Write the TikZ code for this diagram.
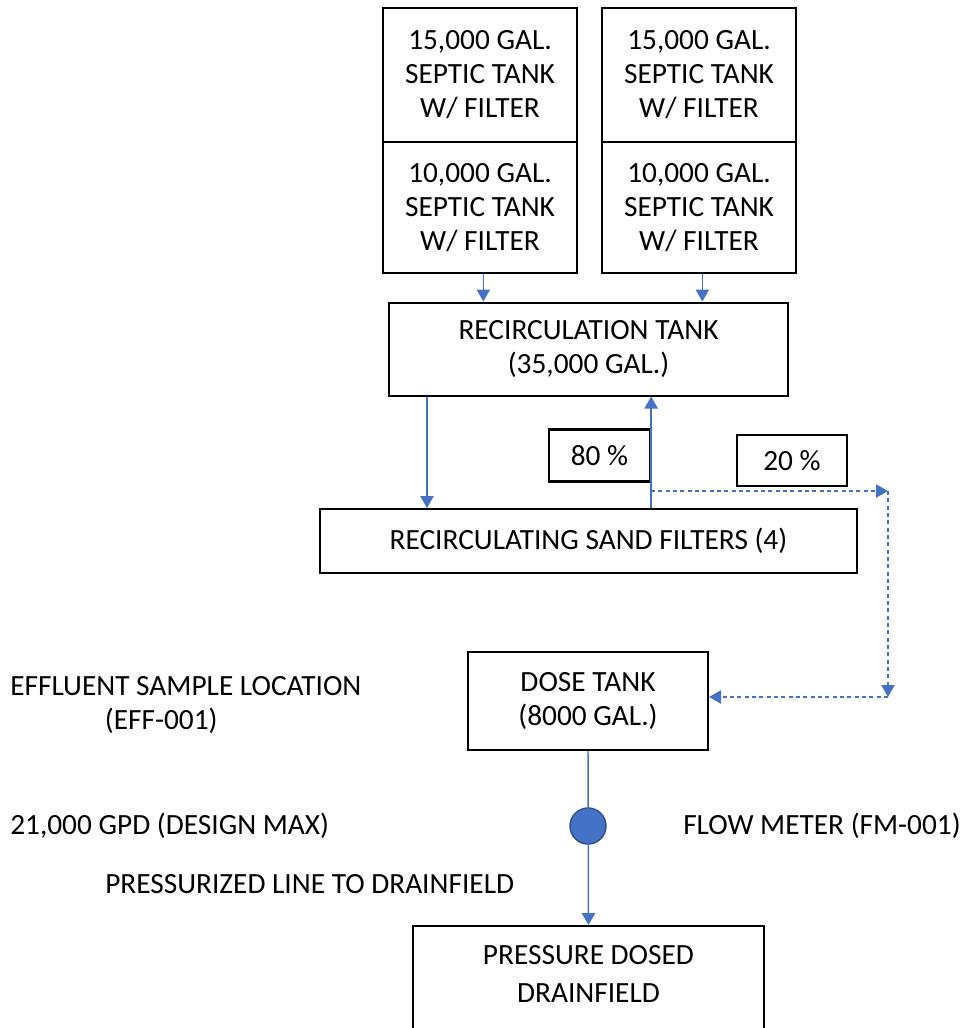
\documentclass[tikz,border=0pt]{standalone}
\usepackage{fontspec}
\setmainfont{Carlito}
\usetikzlibrary{arrows.meta, positioning}
\definecolor{flow}{HTML}{4472C4}
\definecolor{meterrim}{HTML}{2F528F}
\tikzstyle{tank}=[rectangle, draw=black, line width=1.5pt, align=center, inner sep=0pt, font=\fontsize{22}{25.5}\selectfont]
\tikzstyle{pct}=[tank, line width=1.7pt]
\tikzstyle{pipe}=[draw=flow, line width=1.1pt, -{Triangle[length=9pt,width=10pt]}]
\tikzstyle{bypass}=[pipe, dash pattern=on 3pt off 2.5pt]
\tikzstyle{note}=[anchor=west, align=left, inner sep=0pt, font=\fontsize{22}{25.5}\selectfont]

\begin{document}
\begin{tikzpicture}[x=0.75pt, y=-0.75pt]
    \useasboundingbox (0,0) rectangle (960,1028);
    \begin{scope}
    \clip (0,0) rectangle (960,1028);

    % septic tanks
    \node[tank, minimum width=145.5pt, minimum height=100.5pt] (st1) at (480,75) {15,000 GAL.\\SEPTIC TANK\\W/ FILTER};
    \node[tank, minimum width=145.5pt, minimum height=100.5pt] (st2) at (699,75) {15,000 GAL.\\SEPTIC TANK\\W/ FILTER};
    \node[tank, minimum width=145.5pt, minimum height=98.25pt] (st3) at (480,207.5) {10,000 GAL.\\SEPTIC TANK\\W/ FILTER};
    \node[tank, minimum width=145.5pt, minimum height=98.25pt] (st4) at (699,207.5) {10,000 GAL.\\SEPTIC TANK\\W/ FILTER};

    \node[tank, minimum width=299.25pt, minimum height=69.75pt] (rt) at (588.5,349) {RECIRCULATION TANK\\(35,000 GAL.)};
    \node[pct, minimum width=75.75pt, minimum height=39pt] (p80) at (599.5,455.5) {80 \%};
    \node[pct, minimum width=82.5pt, minimum height=38.25pt] (p20) at (792,460.5) {20 \%};
    \node[tank, minimum width=402.75pt, minimum height=48pt] (rsf) at (588.5,541) {RECIRCULATING SAND FILTERS (4)};
    \node[tank, minimum width=180pt, minimum height=73.5pt] (dt) at (588,701) {DOSE TANK\\(8000 GAL.)};
    \node[tank, minimum width=263.25pt, minimum height=90pt, anchor=north] (df) at (588.5,925) {};
    \node[align=center, inner sep=0pt, font=\fontsize{22}{28.5}\selectfont] (dftext) at (588.5,974) {PRESSURE DOSED\\DRAINFIELD};

    % flow meter
    \node[circle, draw=meterrim, fill=flow, line width=1.1pt, minimum size=27pt, inner sep=0pt] (fm) at (588,826) {};

    % main flow
    \draw[pipe] ([xshift=2.5pt]st3.south) -- ([xshift=2.5pt]st3.south |- rt.north);
    \draw[pipe] ([xshift=2.5pt]st4.south) -- ([xshift=2.5pt]st4.south |- rt.north);
    \draw[pipe] ([xshift=29.25pt]rt.south west) -- ([xshift=29.25pt]rt.south west |- rsf.north);
    \draw[pipe] (p80.east |- rsf.north) -- (p80.east |- rt.south);
    \draw[pipe] (dt.south) -- (df.north);

    % 20 % split to dose tank
    \coordinate (split) at (p80.east |- 0,491);
    \coordinate (c1) at (888,491);
    \coordinate (c2) at (888,697);
    \draw[bypass] (split) -- (c1);
    \draw[bypass] (c1) -- (c2);
    \draw[bypass] (c2) -- (dt.east |- c2);

    % labels
    \node[note] (eff) at (10,705) {EFFLUENT SAMPLE LOCATION\\\hspace*{71pt}(EFF-001)};
    \node[note] (gpd) at (10,826) {21,000 GPD (DESIGN MAX)};
    \node[note] (fmlabel) at (683,826) {FLOW METER (FM-001)};
    \node[note] (line) at (105,884) {PRESSURIZED LINE TO DRAINFIELD};
    \end{scope}
\end{tikzpicture}
\end{document}
